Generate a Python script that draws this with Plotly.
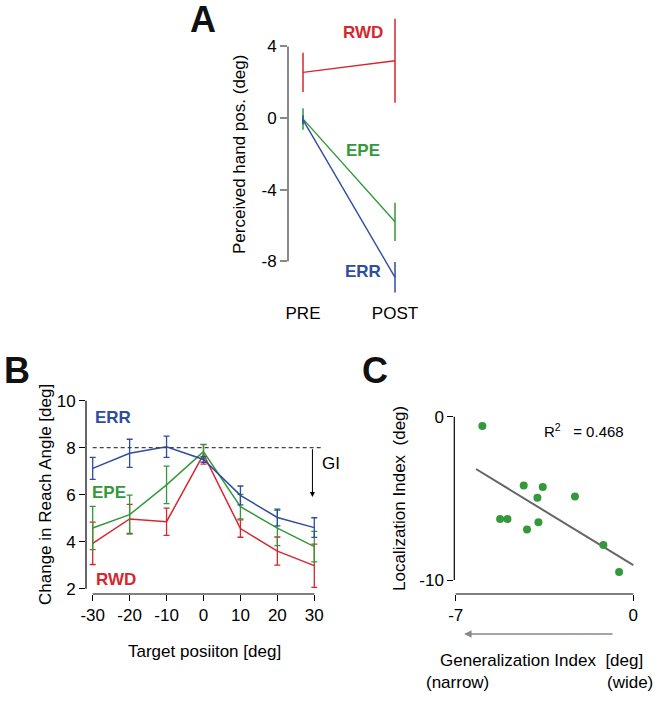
import numpy as np
import plotly.graph_objects as go

W, H = 658, 702
FONT = "Liberation Sans, Arial, sans-serif"
RED = "#d6262e"
GREEN = "#33993a"
BLUE = "#2e4d9c"
NB = "\u00a0"

# ---------------- Panel A data ----------------
phase_labels = ["PRE", "POST"]
phase_pos = [0, 1]
a_rwd = [2.55, 3.2]
a_rwd_err = [1.1, 2.35]
a_epe = [-0.05, -5.8]
a_epe_err = [0.6, 1.07]
a_err = [-0.1, -8.9]
a_err_err = [0.25, 0.85]
a_yticks = [4, 0, -4, -8]

# ---------------- Panel B data ----------------
target_pos = [-30, -20, -10, 0, 10, 20, 30]
b_err = [7.12, 7.76, 8.04, 7.5, 5.97, 5.03, 4.6]
b_err_sd = [0.47, 0.6, 0.45, 0.12, 0.4, 0.36, 0.42]
b_epe = [4.58, 5.15, 6.42, 7.83, 5.49, 4.58, 3.79]
b_epe_sd = [0.92, 0.83, 0.8, 0.3, 0.52, 0.75, 0.65]
b_rwd = [3.93, 4.97, 4.85, 7.72, 4.56, 3.6, 2.98]
b_rwd_sd = [0.9, 0.62, 0.58, 0.42, 0.37, 0.6, 0.92]
b_xticks = [-30, -20, -10, 0, 10, 20, 30]
b_yticks = [2, 4, 6, 8, 10]
b_ref_level = 8
b_gi_x = 29.5
b_gi_end = 5.9

# ---------------- Panel C data ----------------
gen_index = [-5.95, -4.32, -3.57, -3.78, -2.30, -5.25, -4.96, -3.74, -4.19, -1.18, -0.56]
loc_index = [-0.57, -4.22, -4.31, -4.96, -4.88, -6.27, -6.27, -6.47, -6.90, -7.86, -9.51]
fit_x_range = [-6.2, 0.0]
c_xticks = [-7, 0]
c_yticks = [0, -10]
r2_label = "R<sup>2</sup>" + NB * 3 + "= 0.468"


def px(x):
    return x / W


def py(y):
    return 1 - y / H


def labels(vals):
    return [str(v) for v in vals]


fig = go.Figure()

# ---- Panel A traces ----
for vals, errs, col in [(a_rwd, a_rwd_err, RED), (a_epe, a_epe_err, GREEN), (a_err, a_err_err, BLUE)]:
    fig.add_trace(go.Scatter(
        x=phase_pos, y=vals, mode="lines", line=dict(color=col, width=1.4),
        error_y=dict(type="data", array=errs, color=col, thickness=1.5, width=0),
        xaxis="x", yaxis="y", showlegend=False, hoverinfo="skip"))

# ---- Panel B traces ----
for vals, errs, col in [(b_rwd, b_rwd_sd, RED), (b_epe, b_epe_sd, GREEN), (b_err, b_err_sd, BLUE)]:
    fig.add_trace(go.Scatter(
        x=target_pos, y=vals, mode="lines", line=dict(color=col, width=1.5),
        error_y=dict(type="data", array=errs, color=col, thickness=1.3, width=3),
        xaxis="x2", yaxis="y2", showlegend=False, hoverinfo="skip"))

# ---- Panel C traces ----
slope, intercept = np.polyfit(gen_index, loc_index, 1)
fit_x = np.array(fit_x_range)
fig.add_trace(go.Scatter(
    x=fit_x, y=slope * fit_x + intercept, mode="lines",
    line=dict(color="#666666", width=2), xaxis="x3", yaxis="y3",
    showlegend=False, hoverinfo="skip"))
fig.add_trace(go.Scatter(
    x=gen_index, y=loc_index, mode="markers",
    marker=dict(color=GREEN, size=8), xaxis="x3", yaxis="y3",
    showlegend=False, hoverinfo="skip"))

tickfont = dict(family=FONT, size=17, color="black")
common = dict(showgrid=False, zeroline=False, showline=False, tickfont=tickfont,
              automargin=False, fixedrange=True)

fig.update_layout(
    width=W, height=H, margin=dict(l=0, r=0, t=0, b=0, pad=0), autosize=False,
    paper_bgcolor="white", plot_bgcolor="white",
    font=dict(family=FONT, size=17, color="black"),
    # Panel A
    xaxis=dict(domain=[px(288), px(425)], range=[-0.163, 1.326], anchor="y",
               tickvals=phase_pos, ticktext=phase_labels, ticks="", **common),
    yaxis=dict(domain=[py(300.6), py(10.6)], range=[-10.2, 6.0], anchor="x",
               tickvals=a_yticks, ticktext=labels(a_yticks), ticks="outside", ticklen=7,
               tickwidth=1.5, tickcolor="#888888", **common),
    # Panel B
    xaxis2=dict(domain=[px(86), px(340)], range=[-31.81, 36.96], anchor="y2",
                tickvals=b_xticks, ticktext=labels(b_xticks), ticks="outside", ticklen=6,
                tickwidth=1.2, tickcolor="black", **common),
    yaxis2=dict(domain=[py(594), py(395)], range=[1.774, 10.243], anchor="x2",
                tickvals=b_yticks, ticktext=labels(b_yticks), ticks="outside", ticklen=6,
                tickwidth=1.2, tickcolor="black", **common),
    # Panel C
    xaxis3=dict(domain=[px(454.3), px(645)], range=[-7.056, 0.461], anchor="y3",
                tickvals=c_xticks, ticktext=labels(c_xticks), ticks="outside", ticklen=6,
                tickwidth=1.2, tickcolor="black", **common),
    yaxis3=dict(domain=[py(594), py(405)], range=[-10.857, 0.716], anchor="x3",
                tickvals=c_yticks, ticktext=labels(c_yticks), ticks="outside", ticklen=6,
                tickwidth=1.2, tickcolor="black", **common),
)

shapes = [
    # Panel A y axis line
    dict(type="line", xref="x domain", yref="y", x0=0, x1=0, y0=min(a_yticks), y1=max(a_yticks),
         line=dict(color="#888888", width=2)),
    # Panel B axis lines
    dict(type="line", xref="x2", yref="y2 domain", x0=min(b_xticks), x1=max(b_xticks), y0=0, y1=0,
         line=dict(color="black", width=1.2)),
    dict(type="line", xref="x2 domain", yref="y2", x0=0, x1=0, y0=min(b_yticks), y1=max(b_yticks),
         line=dict(color="black", width=1.2)),
    # Panel B reference dashed line
    dict(type="line", xref="x2", yref="y2", x0=min(b_xticks), x1=31.8, y0=b_ref_level, y1=b_ref_level,
         line=dict(color="#444444", width=1.2, dash="4px,3px")),
    # Panel C axis lines
    dict(type="line", xref="x3", yref="y3 domain", x0=min(c_xticks), x1=max(c_xticks), y0=0, y1=0,
         line=dict(color="black", width=1.2)),
    dict(type="line", xref="x3 domain", yref="y3", x0=0, x1=0, y0=min(c_yticks), y1=max(c_yticks),
         line=dict(color="black", width=1.2)),
]
fig.update_layout(shapes=shapes)


def ann(text, x, y, xref="paper", yref="paper", size=17, color="black", **kw):
    d = dict(text=text, x=x, y=y, xref=xref, yref=yref, showarrow=False,
             xanchor="center", yanchor="middle",
             font=dict(family=FONT, size=size, color=color))
    d.update(kw)
    return d


annotations = [
    # panel letters
    ann("<b>A</b>", px(203), py(19), size=36, color="#111111"),
    ann("<b>B</b>", px(17), py(370), size=36, color="#111111"),
    ann("<b>C</b>", px(375), py(370), size=36, color="#111111"),
    # Panel A labels
    ann("<b>RWD</b>", 0.65, 4.8, "x", "y", color=RED),
    ann("<b>EPE</b>", 0.65, -1.79, "x", "y", color=GREEN),
    ann("<b>ERR</b>", 0.65, -8.6, "x", "y", color=BLUE),
    ann("Perceived hand pos. (deg)", px(240), py(155), textangle=-90),
    # Panel B labels
    ann("<b>ERR</b>", -24.4, 9.3, "x2", "y2", color=BLUE),
    ann("<b>EPE</b>", -25.7, 6.1, "x2", "y2", color=GREEN),
    ann("<b>RWD</b>", -23.8, 2.4, "x2", "y2", color=RED),
    ann("GI", 34.4, 7.32, "x2", "y2"),
    dict(text="", x=b_gi_x, y=b_gi_end, ax=b_gi_x, ay=b_ref_level, xref="x2", yref="y2",
         axref="x2", ayref="y2", showarrow=True, arrowhead=2, arrowsize=1, arrowwidth=1,
         arrowcolor="black"),
    ann("Change in Reach Angle [deg]", px(45), py(495), textangle=-90),
    ann("Target posiiton [deg]", px(204), py(651)),
    # Panel C labels
    ann(r2_label, -3.6, -0.876, "x3", "y3", size=15, xanchor="left"),
    dict(text="", x=-6.67, y=py(634), ax=-0.76, ay=0, xref="x3", yref="paper",
         axref="x3", ayref="pixel", showarrow=True, arrowhead=2, arrowsize=1, arrowwidth=1.5,
         arrowcolor="#888888"),
    ann("Localization Index" + NB * 2 + "(deg)", px(400), py(499), textangle=-90),
    ann("Generalization Index" + NB * 2 + "[deg]", px(541), py(660)),
    ann("(narrow)", px(457), py(682)),
    ann("(wide)", px(630), py(682)),
]
fig.update_layout(annotations=annotations)

fig.write_html(
    "out.html",
    config={"displayModeBar": False},
    post_script="document.body.style.margin='0';document.body.style.padding='0';",
)
